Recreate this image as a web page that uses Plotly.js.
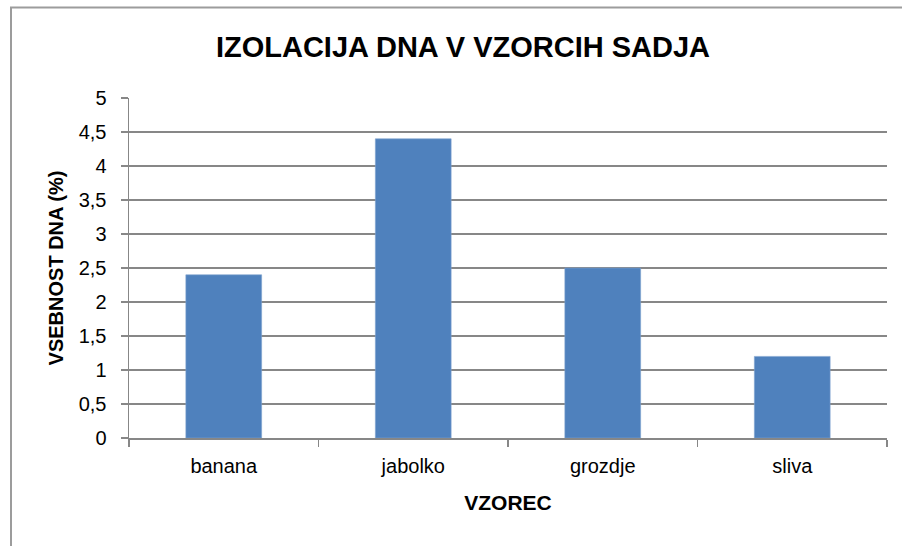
<!DOCTYPE html>
<html>
<head>
<meta charset="utf-8">
<script src="https://cdn.plot.ly/plotly-3.0.1.min.js"></script>
<style>
html,body{margin:0;padding:0;background:#fff;}
#chart{width:902px;height:546px;}
</style>
</head>
<body>
<div id="chart"></div>
<script>
const categories = ["banana", "jabolko", "grozdje", "sliva"];
const values = [2.4, 4.4, 2.5, 1.2];
const chartTitle = "IZOLACIJA DNA V VZORCIH SADJA";
const xTitle = "VZOREC";
const yTitle = "VSEBNOST DNA (%)";

const L = 129, R = 887, T = 98, B = 438, W = 902, H = 546;
const px = v => (v - L) / (R - L);
const py = v => (B - v) / (B - T);
const sans = "'Liberation Sans', Arial, sans-serif";
const grey = "#878787";

const trace = {
  type: "bar",
  x: categories,
  y: values,
  marker: {color: "#4F81BD", line: {color: "#7fa3cf", width: 0.6}},
  hoverinfo: "x+y"
};

const layout = {
  width: W, height: H,
  margin: {l: L, r: W - R, t: T, b: H - B, pad: 0},
  paper_bgcolor: "#ffffff",
  plot_bgcolor: "#ffffff",
  separators: ", ",
  showlegend: false,
  bargap: 0.6,
  title: {
    text: "<b>" + chartTitle + "</b>",
    font: {family: sans, size: 29, color: "#000"},
    xref: "paper", x: (463 - L) / (R - L), xanchor: "center",
    yref: "container", y: 1 - 47 / H, yanchor: "middle"
  },
  xaxis: {
    type: "category",
    showline: true, linecolor: grey, linewidth: 1.5,
    ticks: "outside", tickson: "boundaries", ticklen: 7, tickcolor: grey, tickwidth: 1.5,
    showgrid: false,
    tickfont: {family: sans, size: 20, color: "#000"},
    ticklabelstandoff: 9,
    title: {text: "<b>" + xTitle + "</b>", font: {family: sans, size: 21, color: "#000"}, standoff: 20}
  },
  yaxis: {
    range: [0, 5], dtick: 0.5, tick0: 0,
    showline: true, linecolor: grey, linewidth: 1.5,
    ticks: "outside", ticklen: 7, tickcolor: grey, tickwidth: 1.5,
    showgrid: true, gridcolor: grey, gridwidth: 1.5,
    zeroline: false,
    tickfont: {family: sans, size: 20, color: "#000"},
    ticklabelstandoff: 10,
    title: {text: "<b>" + yTitle + "</b>", font: {family: sans, size: 20, color: "#000"}, standoff: 9}
  },
  shapes: [
    {type: "line", xref: "paper", yref: "paper", x0: px(10), x1: px(W + 5), y0: py(7.5), y1: py(7.5),
     line: {color: "#9c9c9c", width: 2}},
    {type: "line", xref: "paper", yref: "paper", x0: px(11), x1: px(11), y0: py(7.5), y1: py(H + 5),
     line: {color: "#9c9c9c", width: 2}}
  ]
};

Plotly.newPlot("chart", [trace], layout, {displayModeBar: false, staticPlot: true});
</script>
</body>
</html>
